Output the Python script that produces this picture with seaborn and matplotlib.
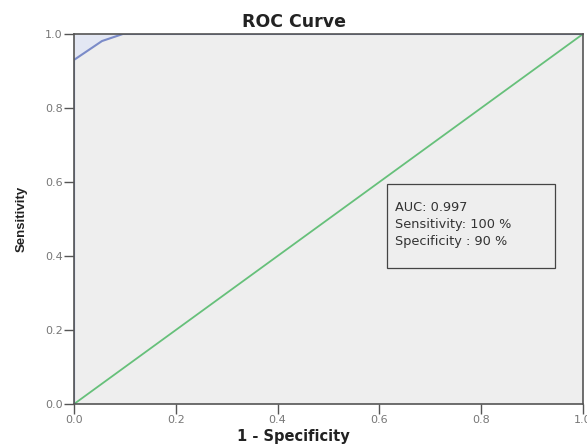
import matplotlib
matplotlib.use("Agg")
import matplotlib.pyplot as plt
import matplotlib.patches as mpatches
import seaborn as sns
import pandas as pd

# --- data ---
fpr = [0.0, 0.0, 0.055, 0.096, 1.0]
tpr = [0.0, 0.93, 0.981, 1.0, 1.0]
ref_line = [0.0, 1.0]
ticks = [0.0, 0.2, 0.4, 0.6, 0.8, 1.0]
tick_labels = ["0.0", "0.2", "0.4", "0.6", "0.8", "1.0"]
stats_lines = ["AUC: 0.997", "Sensitivity: 100 %", "Specificity : 90 %"]

sns.set_style("white")
plt.rcParams["font.family"] = ["DejaVu Sans"]

roc = pd.DataFrame({"fpr": fpr, "tpr": tpr})
diag = pd.DataFrame({"x": ref_line, "y": ref_line})

fig = plt.figure(figsize=(5.87, 4.45), dpi=100)
ax = fig.add_axes([0.1261, 0.0921, 0.867, 0.8315])
ax.set_facecolor("#eeeeee")

# shaded area above the curve
ax.fill_between(roc["fpr"], roc["tpr"], 1.0, color="#e3e7f3", lw=0)
sns.lineplot(data=diag, x="x", y="y", ax=ax, color="#66c07a", lw=1.3)
sns.lineplot(data=roc, x="fpr", y="tpr", ax=ax, color="#7b8bc8", lw=1.5,
             sort=False, estimator=None)

ax.set_xlim(0, 1)
ax.set_ylim(0, 1)
ax.set_xticks(ticks)
ax.set_xticklabels(tick_labels)
ax.set_yticks(ticks)
ax.set_yticklabels(tick_labels)
ax.tick_params(axis="both", length=7, width=1, color="#555555",
               labelsize=8, labelcolor="#777777", pad=1, direction="out")
ax.tick_params(axis="both", which="both", bottom=True, left=True)

for side in ["left", "bottom", "top", "right"]:
    ax.spines[side].set_color("#555555")
    ax.spines[side].set_linewidth(1.2)

ax.set_xlabel("")
ax.set_ylabel("")
fig.text(22 / 587, 0.5 + (445 - 219) / 445 - 0.5, "Sensitivity", rotation=90,
         ha="center", va="center", fontsize=9.5, fontweight="bold",
         color="#222222", family=["Liberation Sans Narrow", "Liberation Sans", "DejaVu Sans"])
fig.text(0.5, 1 - 22 / 445, "ROC Curve", ha="center", va="center",
         fontsize=12.5, fontweight="bold", color="#222222")
fig.text(0.5, 1 - 436 / 445, "1 - Specificity", ha="center", va="center",
         fontsize=10.5, fontweight="bold", color="#222222")

box = mpatches.Rectangle((0.615, 0.368), 0.330, 0.227, transform=ax.transData,
                         facecolor="#eeeeee", edgecolor="#444444", lw=0.9, zorder=5)
ax.add_patch(box)
for i, line in enumerate(stats_lines):
    ax.text(0.630, 0.532 - i * 0.046, line, fontsize=9.3, color="#333333",
            va="center", ha="left", zorder=6)

fig.savefig("out.png", dpi=100)
